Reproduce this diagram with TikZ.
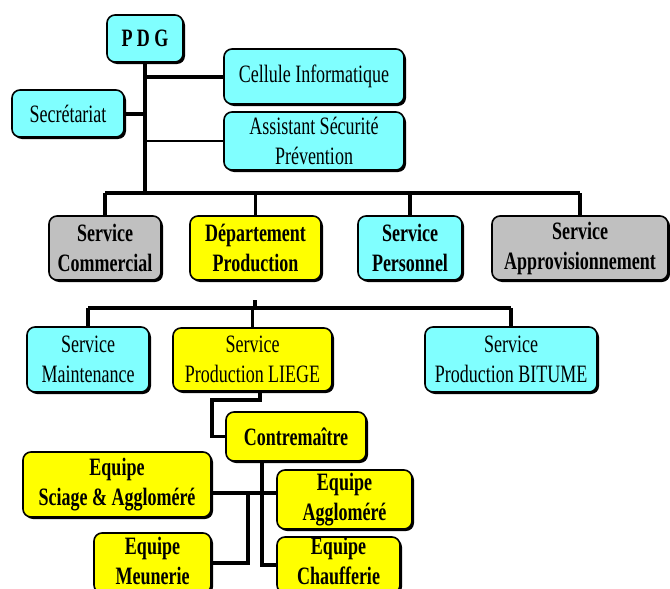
\documentclass[tikz,border=0pt]{standalone}
\usepackage{fontspec}
\setmainfont[FakeStretch=0.72]{Liberation Serif}
\usetikzlibrary{shadows}
\definecolor{cy}{RGB}{128,255,255}
\definecolor{ye}{RGB}{255,255,0}
\definecolor{gr}{RGB}{192,192,192}
\begin{document}
\begin{tikzpicture}[x=1pt,y=-1pt,
  box/.style={draw=black, line width=1.6pt, rounded corners=8pt, inner sep=0pt, align=center,
    drop shadow={shadow xshift=2pt,shadow yshift=-2pt,fill=black,opacity=1},
    font=\fontsize{25}{30}\selectfont},
  boldbox/.style={box, font=\fontsize{25}{30}\selectfont\bfseries},
  boldtext/.style={inner sep=0pt, align=center, font=\fontsize{25}{30}\selectfont\bfseries},
  lnA/.style={line width=4pt},
  lnB/.style={line width=3.5pt},
  lnC/.style={line width=1.8pt}]
\useasboundingbox (0,0) rectangle (670,589);
\fill[white] (0,0) rectangle (670,589);
% nodes
\node[boldbox, fill=cy, minimum width=76pt, minimum height=47pt] (pdg) at (145,38.5) {P D G};
\node[box, fill=cy, minimum width=180pt, minimum height=55pt] (cell) at (314,76.5) {Cellule Informatique};
\node[box, fill=cy, minimum width=112pt, minimum height=47pt] (secr) at (68,113.5) {Secrétariat};
\node[box, fill=cy, minimum width=180pt, minimum height=58pt] (asst) at (314,141) {Assistant Sécurité\\Prévention};
\node[boldbox, fill=gr, minimum width=112pt, minimum height=64pt] (comm) at (105,248) {Service\\Commercial};
\node[boldbox, fill=ye, minimum width=131pt, minimum height=64pt] (dprod) at (255.5,248) {Département\\Production};
\node[boldbox, fill=cy, minimum width=104pt, minimum height=64pt] (pers) at (410,248) {Service\\Personnel};
\node[boldbox, fill=gr, minimum width=176pt, minimum height=64pt] (appro) at (580,248) {Service\\Approvisionnement};
\node[box, fill=cy, minimum width=122pt, minimum height=65pt] (maint) at (88,359.5) {Service\\Maintenance};
\node[box, fill=ye, minimum width=159pt, minimum height=63pt] (liege) at (252.5,359.5) {Service\\Production LIEGE};
\node[box, fill=cy, minimum width=172pt, minimum height=65pt] (bitume) at (511,359.5) {Service\\Production BITUME};
\node[boldbox, fill=ye, minimum width=140pt, minimum height=49pt] (contre) at (296,436.5) {Contremaître};
\node[boldbox, fill=ye, minimum width=188pt, minimum height=65pt] (sciage) at (117,484.5) {Equipe\\Sciage \& Aggloméré};
\node[boldbox, fill=ye, minimum width=117pt, minimum height=60pt] (meun) at (152.5,563) {};
\node[boldtext] (meuntxt) at ([yshift=2pt]meun.center) {Equipe\\Meunerie};
\node[boldbox, fill=ye, minimum width=135pt, minimum height=59pt] (aggl) at (344.5,499.5) {Equipe\\Aggloméré};
\node[boldbox, fill=ye, minimum width=123pt, minimum height=56pt] (chauf) at (338.5,565) {};
\node[boldtext] (chauftxt) at ([yshift=4pt]chauf.center) {Equipe\\Chaufferie};
% coordinates
\coordinate (bus) at (146,193);
\coordinate (bus2) at (0,308);
\coordinate (tick) at (255,300);
\coordinate (lg) at (260,0);
\coordinate (lgy) at (0,400);
\coordinate (lx) at (212,0);
\coordinate (cx) at (262,0);
\coordinate (hy) at (0,493);
\coordinate (mx) at (248,0);
% top connectors
\draw[lnA] (pdg.south) -- (pdg.south |- bus);
\draw[lnA] (pdg.south |- cell.west) -- (cell.west);
\draw[lnA] (secr.east) -- (pdg.south |- secr.east);
\draw[lnC] (pdg.south |- asst.west) -- (asst.west);
\draw[lnA] (comm.north |- bus) -- (appro.north |- bus);
\draw[lnB] (comm.north |- bus) -- (comm.north);
\draw[lnB] (dprod.north |- bus) -- (dprod.north);
\draw[lnB] (pers.north |- bus) -- (pers.north);
\draw[lnB] (appro.north |- bus) -- (appro.north);
% second level
\draw[lnB] (maint.north |- bus2) -- (bitume.north |- bus2);
\draw[lnB] (tick) -- (tick |- bus2);
\draw[lnB] (maint.north |- bus2) -- (maint.north);
\draw[lnB] (liege.north |- bus2) -- (liege.north);
\draw[lnB] (bitume.north |- bus2) -- (bitume.north);
% Liege to contremaitre
\draw[lnB] (lg |- liege.south) -- (lg |- lgy) -- (lx |- lgy) -- (lx |- contre.west) -- (contre.west);
% contremaitre to equipes
\draw[lnB] (cx |- contre.south) -- (cx |- chauf.west) -- (chauf.west);
\draw[lnB] (sciage.east |- hy) -- (aggl.west |- hy);
\draw[lnB] (mx |- hy) -- (mx |- meun.east) -- (meun.east);
\end{tikzpicture}
\end{document}
